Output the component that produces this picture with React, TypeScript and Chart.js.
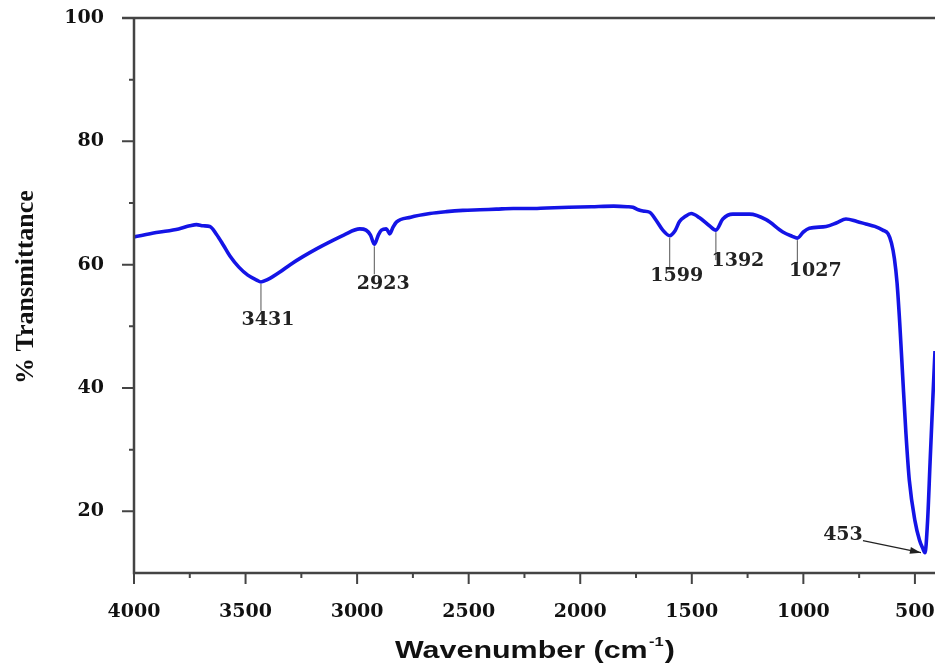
import React, { useEffect, useRef } from "react";
import { Chart, registerables } from "chart.js";

Chart.register(...registerables);

// ---- Data ----
const wavenumbers = [
  4000, 3900, 3800, 3750, 3720, 3690, 3660, 3630, 3600, 3570, 3530, 3490, 3450, 3431, 3400, 3346,
  3300, 3243, 3180, 3122, 3060, 2988, 2960, 2940, 2923, 2905, 2891, 2869, 2854, 2840, 2824, 2760,
  2674, 2600, 2526, 2450, 2376, 2300, 2227, 2150, 2050, 1950, 1850, 1790, 1764, 1740, 1719, 1689,
  1660, 1630, 1599, 1575, 1555, 1530, 1503, 1465, 1421, 1392, 1361, 1316, 1241, 1167, 1092, 1050,
  1027, 1000, 973, 898, 850, 809, 760, 720, 680, 644, 620, 605, 592, 580, 568, 555, 540, 525, 500,
  480, 465, 455, 443, 432, 420, 410,
];
const transmittance = [
  64.5, 65.2, 65.8, 66.3, 66.5, 66.3, 66.2, 64.9, 63.2, 61.4, 59.6, 58.3, 57.5, 57.2, 57.6, 58.8,
  60.0, 61.3, 62.6, 63.7, 64.8, 65.8, 65.6, 64.8, 63.3, 64.8, 65.6, 65.8, 65.0, 66.0, 66.9, 67.7,
  68.3, 68.6, 68.8, 68.9, 69.0, 69.1, 69.1, 69.2, 69.3, 69.4, 69.5, 69.4, 69.3, 68.9, 68.7, 68.5,
  67.2, 65.6, 64.7, 65.5, 67.0, 67.8, 68.3, 67.6, 66.3, 65.6, 67.4, 68.2, 68.2, 67.3, 65.3, 64.6,
  64.3, 65.3, 65.9, 66.2, 66.8, 67.4, 67.0, 66.6, 66.2, 65.6, 65.0, 63.5, 61.0, 57.0, 50.5, 42.0,
  32.5, 25.0, 18.5, 15.4, 14.0, 13.3, 18.6, 28.0, 38.0, 46.0,
];

const xTickValues = [4000, 3500, 3000, 2500, 2000, 1500, 1000, 500];
const xMinorTickValues = [3750, 3250, 2750, 2250, 1750, 1250, 750];
const yTickValues = [20, 40, 60, 80, 100];
const yMinorTickValues = [30, 50, 70, 90];

const peakWavenumbers = [3431, 2923, 1599, 1392, 1027];
const peakValues = [57.2, 63.3, 64.7, 65.6, 64.3];
const peakLabels = ["3431", "2923", "1599", "1392", "1027"];

const arrowPeakWavenumber = 455;
const arrowPeakValue = 13.3;
const arrowPeakLabel = "453";

const xTitleMain = "Wavenumber (cm";
const xTitleSup = "-1";
const xTitleEnd = ")";
const yTitle = "% Transmittance";

// ---- Layout constants (pixels) ----
const peakLayout = [
  { len: 29, dx: 7, dy: 38 },
  { len: 30, dx: 9, dy: 40 },
  { len: 32, dx: 7, dy: 40 },
  { len: 30, dx: 22, dy: 31 },
  { len: 25, dx: 18, dy: 33 },
];

const AXIS_COLOR = "#444";
const TEXT_COLOR = "#111";
const LINE_COLOR = "#1414e6";
const SERIF_BOLD = "bold 19px 'DejaVu Serif'";

const decorPlugin = {
  id: "decor",
  afterDraw(chart: any) {
    const ctx = chart.ctx as CanvasRenderingContext2D;
    const xs = chart.scales.x;
    const ys = chart.scales.y;
    const area = chart.chartArea;
    ctx.save();

    // axes lines
    ctx.strokeStyle = AXIS_COLOR;
    ctx.lineWidth = 2.5;
    ctx.beginPath();
    ctx.moveTo(area.left, area.top - 1);
    ctx.lineTo(area.left, area.bottom);
    ctx.lineTo(chart.width, area.bottom);
    ctx.stroke();
    // top border
    ctx.beginPath();
    ctx.moveTo(area.left - 12, area.top);
    ctx.lineTo(chart.width, area.top);
    ctx.stroke();

    // ticks
    ctx.lineWidth = 2;
    ctx.beginPath();
    yTickValues.forEach((v) => {
      const y = ys.getPixelForValue(v);
      ctx.moveTo(area.left - 12, y);
      ctx.lineTo(area.left, y);
    });
    yMinorTickValues.forEach((v) => {
      const y = ys.getPixelForValue(v);
      ctx.moveTo(area.left - 5, y);
      ctx.lineTo(area.left, y);
    });
    xTickValues.forEach((v) => {
      const x = xs.getPixelForValue(v);
      ctx.moveTo(x, area.bottom);
      ctx.lineTo(x, area.bottom + 11);
    });
    xMinorTickValues.forEach((v) => {
      const x = xs.getPixelForValue(v);
      ctx.moveTo(x, area.bottom);
      ctx.lineTo(x, area.bottom + 5);
    });
    ctx.stroke();

    // peak annotations
    ctx.font = SERIF_BOLD;
    ctx.fillStyle = "#222";
    ctx.textAlign = "center";
    ctx.textBaseline = "middle";
    peakWavenumbers.forEach((wn, i) => {
      const px = xs.getPixelForValue(wn);
      const py = ys.getPixelForValue(peakValues[i]);
      const L = peakLayout[i];
      ctx.strokeStyle = "#555";
      ctx.lineWidth = 1;
      ctx.beginPath();
      ctx.moveTo(px, py + 2);
      ctx.lineTo(px, py + L.len);
      ctx.stroke();
      ctx.fillText(peakLabels[i], px + L.dx, py + L.dy);
    });

    // arrow annotation
    {
      const px = xs.getPixelForValue(arrowPeakWavenumber);
      const py = ys.getPixelForValue(arrowPeakValue);
      ctx.fillText(arrowPeakLabel, px - 82, py - 18);
      const sx = px - 62, sy = py - 12;
      const ex = px - 4, ey = py;
      ctx.strokeStyle = "#222";
      ctx.lineWidth = 1.2;
      ctx.beginPath();
      ctx.moveTo(sx, sy);
      ctx.lineTo(ex, ey);
      ctx.stroke();
      const ang = Math.atan2(ey - sy, ex - sx);
      const hl = 11, hw = 3.5;
      ctx.beginPath();
      ctx.moveTo(ex, ey);
      ctx.lineTo(ex - hl * Math.cos(ang) + hw * Math.sin(ang), ey - hl * Math.sin(ang) - hw * Math.cos(ang));
      ctx.lineTo(ex - hl * Math.cos(ang) - hw * Math.sin(ang), ey - hl * Math.sin(ang) + hw * Math.cos(ang));
      ctx.closePath();
      ctx.fill();
    }

    // y title
    ctx.save();
    ctx.fillStyle = TEXT_COLOR;
    ctx.font = "bold 26px 'Liberation Serif'";
    ctx.textAlign = "center";
    ctx.textBaseline = "alphabetic";
    ctx.translate(33, 287);
    ctx.rotate(-Math.PI / 2);
    ctx.fillText(yTitle, 0, 0);
    ctx.restore();

    // x title with superscript
    ctx.save();
    ctx.fillStyle = TEXT_COLOR;
    ctx.textAlign = "left";
    ctx.textBaseline = "alphabetic";
    const mainFont = "bold 24px 'Liberation Sans'";
    const supFont = "bold 13px 'Liberation Sans'";
    ctx.font = mainFont;
    const w1 = ctx.measureText(xTitleMain).width;
    const w3 = ctx.measureText(xTitleEnd).width;
    ctx.font = supFont;
    const w2 = ctx.measureText(xTitleSup).width;
    const total = w1 + w2 + 2 + w3;
    const target = 280;
    const sxs = target / total;
    ctx.translate(395, 658);
    ctx.scale(sxs, 1);
    ctx.font = mainFont;
    ctx.fillText(xTitleMain, 0, 0);
    ctx.font = supFont;
    ctx.fillText(xTitleSup, w1 + 1, -12);
    ctx.font = mainFont;
    ctx.fillText(xTitleEnd, w1 + w2 + 2, 0);
    ctx.restore();

    ctx.restore();
  },
};

export default function App() {
  const canvasRef = useRef<HTMLCanvasElement | null>(null);

  useEffect(() => {
    if (!canvasRef.current) return;
    const points = wavenumbers.map((x, i) => ({ x, y: transmittance[i] }));
    const chart = new Chart(canvasRef.current, {
      type: "line",
      data: {
        datasets: [
          {
            data: points,
            borderColor: LINE_COLOR,
            borderWidth: 3.6,
            pointRadius: 0,
            fill: false,
            cubicInterpolationMode: "monotone",
          },
        ],
      },
      options: {
        responsive: false,
        animation: false,
        layout: { padding: { top: 18, left: 0, right: 0, bottom: 0 } },
        plugins: { legend: { display: false }, tooltip: { enabled: false } },
        scales: {
          x: {
            type: "linear",
            reverse: true,
            min: 410,
            max: 4000,
            border: { display: false },
            grid: { display: false },
            ticks: {
              font: { family: "DejaVu Serif", weight: "bold", size: 19 },
              color: TEXT_COLOR,
              padding: 20,
              maxRotation: 0,
              autoSkip: false,
              callback: (v: any) => String(v),
            },
            afterBuildTicks: (s: any) => {
              s.ticks = xTickValues.map((v) => ({ value: v }));
            },
            afterFit: (s: any) => {
              s.height = 93;
              s.paddingLeft = 0;
              s.paddingRight = 0;
            },
          },
          y: {
            type: "linear",
            min: 10,
            max: 100,
            border: { display: false },
            grid: { display: false },
            ticks: {
              font: { family: "DejaVu Serif", weight: "bold", size: 19 },
              color: TEXT_COLOR,
              padding: 22,
              autoSkip: false,
              callback: (v: any) => String(v),
            },
            afterBuildTicks: (s: any) => {
              s.ticks = yTickValues.map((v) => ({ value: v }));
            },
            afterFit: (s: any) => {
              s.width = 134;
              s.paddingTop = 0;
              s.paddingBottom = 0;
            },
          },
        },
      },
      plugins: [decorPlugin],
    });
    return () => chart.destroy();
  }, []);

  return (
    <div style={{ position: "absolute", left: 0, top: 0, width: 935, height: 666, background: "#fff" }}>
      <canvas ref={canvasRef} width={935} height={666} style={{ display: "block" }} />
    </div>
  );
}
